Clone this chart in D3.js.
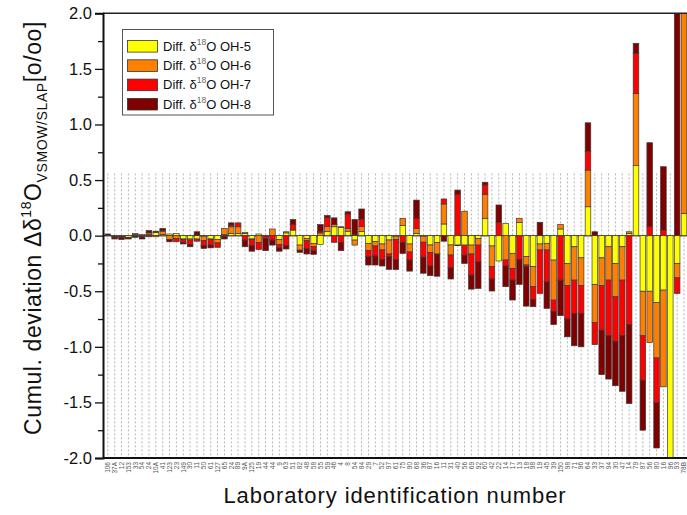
<!DOCTYPE html>
<html><head><meta charset="utf-8">
<script src="https://cdn.jsdelivr.net/npm/d3@7"></script>
<style>body{margin:0;background:#fff}svg{display:block}</style>
</head><body><svg id="c" width="687" height="515"></svg>
<script>
const labels = ["106","37A","12","153","33","54","24","10A","41","123","23","149","30","11","50","61","127","65","24","89","9A","125","19","44","44","9","63","51","82","48","58","55","59","46","4","8","54","84","29","7","52","97","61","75","90","68","36","87","16","11","31","40","56","69","92","60","42","22","14","17","13","18","98","19","45","39","150","98","71","96","64","33","37","94","30","47","14","79","87","56","80","16","96","93","78B"];
const oh5 = [0,-0.005,-0.005,-0.015,0.01,0.01,0.01,0.03,0.01,0.015,0.02,-0.03,-0.03,-0.03,-0.005,-0.03,-0.035,0.01,0.02,0.02,0.02,-0.03,0.015,0,0,-0.035,0.025,0.05,-0.085,-0.025,-0.07,-0.078,0.036,0.08,0.075,0.04,-0.04,0.036,-0.069,-0.054,-0.075,-0.039,-0.005,0.09,-0.075,0.02,-0.005,-0.084,-0.063,0.105,-0.084,-0.085,-0.085,-0.085,-0.025,0.156,-0.093,-0.228,0.111,-0.159,0.117,-0.189,-0.279,-0.075,-0.069,-0.22,0.06,-0.25,-0.1,-0.2,0.26,-0.44,-0.2,-0.1,-0.25,-0.1,0.02,0.63,-0.5,-0.5,-0.6,-0.49,-2.4,-0.25,0.2];
const oh6 = [0,-0.005,-0.005,-0.005,0.01,0,0.015,-0.01,0.03,-0.035,-0.025,-0.005,-0.01,0.005,-0.04,-0.005,-0.03,0.055,0.06,0.06,0.01,-0.005,-0.06,-0.005,0.06,-0.045,0.01,0,-0.045,-0.02,-0.03,0.025,0.045,0.02,0.005,0.025,-0.045,0.045,-0.066,-0.039,-0.054,-0.126,-0.03,0.066,-0.072,0.045,-0.054,-0.069,-0.102,0.18,-0.09,-0.005,0.22,-0.08,-0.06,0.216,-0.186,0,-0.219,-0.135,0.039,-0.075,-0.18,-0.054,-0.06,-0.36,0.04,-0.2,-0.3,-0.25,0.33,-0.34,-0.25,-0.3,-0.3,-0.3,0.015,0.65,-0.4,-0.46,-0.5,-0.87,0,-0.13,2.3];
const oh7 = [0,-0.005,-0.005,0,-0.005,-0.01,-0.01,0,0.005,0,-0.03,-0.025,-0.04,-0.02,-0.045,-0.05,-0.04,-0.01,0.015,0.035,-0.04,-0.055,-0.065,-0.02,-0.04,-0.03,-0.09,0.05,0,-0.07,-0.035,0.01,0.08,-0.06,-0.06,0.13,0.01,0.066,-0.054,-0.09,-0.084,-0.024,-0.18,-0.06,-0.072,0.09,-0.135,-0.12,-0.005,0.045,-0.111,0.37,-0.09,-0.19,-0.15,0.084,-0.111,0.117,-0.054,-0.105,-0.213,-0.015,-0.114,-0.39,-0.285,-0.1,-0.4,-0.3,-0.3,-0.25,0.17,-0.2,-0.4,-0.5,-0.4,-0.5,-0.8,0.36,-0.4,0.08,-0.4,0.05,0,-0.14,0];
const oh8 = [0.015,-0.015,-0.02,-0.01,-0.01,-0.02,0.02,0.01,0.02,-0.02,0,-0.015,-0.02,0.03,-0.025,-0.025,0,-0.02,0.02,0,-0.06,-0.05,0,-0.11,-0.045,-0.03,-0.03,0.045,-0.02,-0.05,-0.033,0.065,0.02,0.06,-0.075,0.02,0.135,0.093,-0.075,-0.081,-0.06,-0.114,-0.09,-0.1,-0.1,0.165,-0.144,-0.087,-0.195,-0.05,-0.105,0.04,-0.075,-0.126,-0.24,0.024,-0.108,0.159,-0.186,-0.18,-0.225,-0.355,-0.066,0.12,-0.24,-0.12,-0.32,-0.16,-0.29,-0.3,0.255,0.035,-0.4,-0.39,-0.4,-0.5,-0.71,0.09,-0.45,0.756,-0.41,0.57,0,2.5,0];
const seriesNames = ["Diff. δ18O OH-5","Diff. δ18O OH-6","Diff. δ18O OH-7","Diff. δ18O OH-8"];
const colors = ["#ffff00","#ff8000","#ff0000","#800000"];
const yTicks = [-2,-1.5,-1,-0.5,0,0.5,1,1.5,2];

const svg = d3.select("#c");
const keys = ["oh5","oh6","oh7","oh8"];
const data = labels.map((l,i)=>({i, oh5:oh5[i], oh6:oh6[i], oh7:oh7[i], oh8:oh8[i]}));
const stack = d3.stack().keys(keys).offset(d3.stackOffsetDiverging)(data);

const x = d3.scaleLinear().domain([0, labels.length-1]).range([107.8, 684.0]);
const y = d3.scaleLinear().domain([-2, 2]).range([458, 13.3]);
const axisX = 103;
const bw = 5.6;
const font = "Liberation Sans, Arial, sans-serif";

svg.append("defs").append("clipPath").attr("id","clip")
  .append("rect").attr("x",axisX).attr("y",y(2)).attr("width",700).attr("height",y(-2)-y(2));

// gridlines
svg.append("g").selectAll("line").data(d3.range(labels.length)).join("line")
  .attr("x1",d=>x(d)).attr("x2",d=>x(d)).attr("y1",y(0.56)).attr("y2",y(-2))
  .attr("stroke","#b4b4b4").attr("stroke-width",1).attr("stroke-dasharray","2,2");

// zero line
svg.append("line").attr("x1",axisX).attr("x2",687).attr("y1",y(0)).attr("y2",y(0))
  .attr("stroke","#555").attr("stroke-width",1.5);

// bars
const gb = svg.append("g").attr("clip-path","url(#clip)");
stack.forEach((s,k)=>{
  gb.append("g").selectAll("rect").data(s.filter(d=>d[1]!==d[0])).join("rect")
    .attr("x",d=>x(d.data.i)-bw/2).attr("width",bw)
    .attr("y",d=>y(Math.max(d[0],d[1]))).attr("height",d=>Math.abs(y(d[0])-y(d[1])))
    .attr("fill",colors[k]).attr("stroke","#3a3a3a").attr("stroke-width",0.7);
});

// frame
svg.append("line").attr("x1",axisX).attr("x2",687).attr("y1",y(2)).attr("y2",y(2)).attr("stroke","#222").attr("stroke-width",1.5);
svg.append("line").attr("x1",axisX).attr("x2",687).attr("y1",y(-2)).attr("y2",y(-2)).attr("stroke","#111").attr("stroke-width",2);

// y axis
const ya = svg.append("g").attr("transform",`translate(${axisX},0)`)
  .call(d3.axisLeft(y).tickValues(yTicks).tickSize(8).tickPadding(3).tickFormat(d=>d.toFixed(1)));
ya.select(".domain").attr("stroke","#111").attr("stroke-width",2);
ya.selectAll(".tick line").attr("stroke","#111").attr("stroke-width",1.3);
ya.selectAll("text").attr("font-family",font).attr("font-size",16.5).attr("fill","#111");
const minor = d3.range(-1.75,2,0.5);
svg.append("g").attr("transform",`translate(${axisX},0)`)
  .call(d3.axisLeft(y).tickValues(minor).tickSize(5).tickFormat(""))
  .call(g=>{g.select(".domain").remove(); g.selectAll("line").attr("stroke","#111").attr("stroke-width",1.3);});

// x labels
svg.append("g").selectAll("text").data(labels).join("text")
  .attr("transform",(d,i)=>`translate(${x(i)+2.3},462) rotate(-90)`)
  .attr("text-anchor","end").attr("font-family",font)
  .attr("font-size",6.5).attr("fill","#555").text(d=>d);

// axis titles
svg.append("text").attr("x",395).attr("y",503).attr("text-anchor","middle")
  .attr("font-family",font).attr("font-size",22).attr("letter-spacing",0.9)
  .attr("fill","#111").text("Laboratory identification number");

const yt = svg.append("text").attr("transform","translate(41,228) rotate(-90)").attr("text-anchor","middle")
  .attr("font-family",font).attr("font-size",23).attr("letter-spacing",0.6).attr("fill","#111");
yt.append("tspan").text("Cumul. deviation Δδ");
yt.append("tspan").attr("font-size",14).attr("dy",-10).text("18");
yt.append("tspan").attr("dy",10).text("O");
yt.append("tspan").attr("font-size",14).attr("dy",6).text("VSMOW/SLAP");
yt.append("tspan").attr("dy",-6).text("[o/oo]");

// legend
const lg = svg.append("g");
lg.append("rect").attr("x",122.5).attr("y",29.5).attr("width",151).attr("height",85.5)
  .attr("fill","#fff").attr("stroke","#555").attr("stroke-width",1);
seriesNames.forEach((n,k)=>{
  const cy = 46.3 + k*19.3;
  lg.append("rect").attr("x",127.5).attr("y",cy-5.8).attr("width",30).attr("height",11.6)
    .attr("fill",colors[k]).attr("stroke","#333").attr("stroke-width",0.8);
  const t = lg.append("text").attr("x",163).attr("y",cy+4.5)
    .attr("font-family",font).attr("font-size",13).attr("fill","#111");
  const parts = n.split("18");
  t.append("tspan").text(parts[0]);
  t.append("tspan").attr("font-size",8.5).attr("dy",-6).attr("fill","#666").text("18");
  t.append("tspan").attr("dy",6).text(parts[1]);
});
</script></body></html>
